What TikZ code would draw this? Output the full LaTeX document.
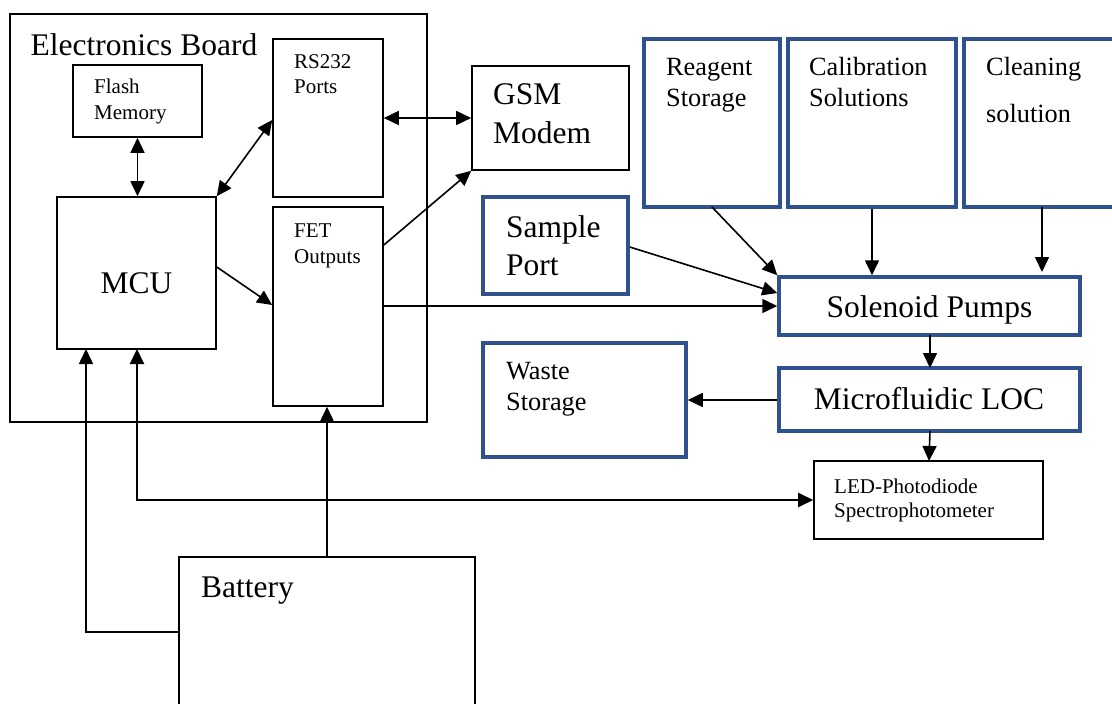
\documentclass[tikz,border=0pt]{standalone}
\usepackage{fontspec}
\setmainfont{Liberation Serif}
\usetikzlibrary{arrows.meta}
\definecolor{boxblue}{RGB}{47,82,143}
\begin{document}
\begin{tikzpicture}[x=1pt,y=-1pt,
  blk/.style={draw=black,line width=1.6pt,rectangle,inner sep=0pt},
  blu/.style={draw=boxblue,line width=3.5pt,rectangle,inner sep=0pt},
  conn/.style={line width=1.6pt,-{Triangle[length=15pt,width=14pt]}},
  dconn/.style={line width=1.6pt,{Triangle[length=15pt,width=14pt]}-{Triangle[length=15pt,width=14pt]}},
  lbl/.style={anchor=base west,inner sep=0pt},
  clbl/.style={anchor=base,inner sep=0pt},
  big/.style={font=\fontsize{31.5}{38}\selectfont},
  mid/.style={font=\fontsize{26.3}{31}\selectfont},
  sml/.style={font=\fontsize{21}{25}\selectfont}]
\useasboundingbox (0,0) rectangle (1112,704);
\clip (0,0) rectangle (1112,704);
\fill[white] (0,0) rectangle (1112,704);

% boxes
\node[blk,minimum width=417,minimum height=408] (board) at (218.5,218) {};
\node[blk,minimum width=129,minimum height=72] (flash) at (137.5,101) {};
\node[blk,minimum width=110,minimum height=158] (rs) at (328,118) {};
\node[blk,minimum width=110,minimum height=199] (fet) at (328,306.5) {};
\node[blk,minimum width=159,minimum height=152] (mcu) at (136.5,273) {};
\node[blk,minimum width=157,minimum height=104] (gsm) at (550.5,118) {};
\node[blu,minimum width=136,minimum height=168] (reag) at (712,123) {};
\node[blu,minimum width=168,minimum height=168] (calib) at (872,123) {};
\node[blu,minimum width=166,minimum height=168] (clean) at (1047,123) {};
\node[blu,minimum width=145,minimum height=97] (sample) at (555.5,245.5) {};
\node[blu,minimum width=301,minimum height=58] (sol) at (929.5,306) {};
\node[blu,minimum width=301,minimum height=63] (loc) at (929.5,399.5) {};
\node[blu,minimum width=203,minimum height=114] (waste) at (584.5,400) {};
\node[blk,minimum width=229,minimum height=78] (led) at (928.5,500) {};
\node[blk,minimum width=296,minimum height=203] (bat) at (327,658.5) {};

% texts
\node[lbl,big] (tBoard) at (30.5,55) {Electronics Board};
\node[lbl,sml] (tFlash1) at (94,93) {Flash};
\node[lbl,sml] (tFlash2) at (94,119) {Memory};
\node[lbl,sml] (tRs1) at (294,68) {RS232};
\node[lbl,sml] (tRs2) at (294,93) {Ports};
\node[lbl,sml] (tFet1) at (294,237) {FET};
\node[lbl,sml] (tFet2) at (294,263) {Outputs};
\node[clbl,big] (tMcu) at (136.5,293) {MCU};
\node[lbl,big] (tGsm1) at (493,104) {GSM};
\node[lbl,big] (tGsm2) at (493,143) {Modem};
\node[lbl,mid] (tReag1) at (666,75) {Reagent};
\node[lbl,mid] (tReag2) at (666,106) {Storage};
\node[lbl,mid] (tCal1) at (809,75) {Calibration};
\node[lbl,mid] (tCal2) at (809,106) {Solutions};
\node[lbl,mid] (tCln1) at (986,75) {Cleaning};
\node[lbl,mid] (tCln2) at (986,122) {solution};
\node[lbl,big] (tSam1) at (506,237) {Sample};
\node[lbl,big] (tSam2) at (506,275) {Port};
\node[clbl,big] (tSol) at (929.5,317) {Solenoid Pumps};
\node[clbl,big] (tLoc) at (929,409) {Microfluidic LOC};
\node[lbl,mid] (tWas1) at (506,379) {Waste};
\node[lbl,mid] (tWas2) at (506,410) {Storage};
\node[lbl,sml] (tLed1) at (834,493) {LED-Photodiode};
\node[lbl,sml] (tLed2) at (834,517) {Spectrophotometer};
\node[lbl,big] (tBat) at (201,597) {Battery};

% helper coordinates
\coordinate (flashB) at (flash.south);
\coordinate (mcuT) at (flashB |- mcu.north);
\coordinate (rsL) at (rs.west |- 0,120);
\coordinate (rsR) at (rs.east |- 0,118);
\coordinate (gsmL) at (gsm.west |- 0,118);
\coordinate (mcuR) at (mcu.east |- 0,267);
\coordinate (fetL) at (fet.west |- 0,305);
\coordinate (fetR1) at (fet.east |- 0,245);
\coordinate (fetR2) at (fet.east |- 0,306);
\coordinate (solL) at (sol.west |- 0,306);
\coordinate (samR) at (sample.east |- 0,247);
\coordinate (solL2) at (sol.west |- 0,293);
\coordinate (reagB) at (712,207);
\coordinate (solL3) at (sol.north west);
\coordinate (calB) at (calib.south);
\coordinate (solT1) at (calB |- sol.north);
\coordinate (clnB) at (1042,207);
\coordinate (solT2) at (1042,272);
\coordinate (solB) at (930,335);
\coordinate (locT) at (930,368);
\coordinate (locL) at (loc.west |- 0,400);
\coordinate (wasR) at (waste.east |- 0,400);
\coordinate (locB) at (930,431);
\coordinate (ledT) at (929,461);
\coordinate (batL) at (bat.west |- 0,632);
\coordinate (mcuB1) at (86,349);
\coordinate (mcuB2) at (137,349);
\coordinate (batT) at (bat.north);
\coordinate (fetB) at (batT |- fet.south);

% connectors
\draw[dconn] (flashB) -- (mcuT);
\draw[dconn] (mcu.north east) -- (rsL);
\draw[dconn] (rsR) -- (gsmL);
\draw[conn] (mcuR) -- (fetL);
\draw[conn] (fetR1) -- (gsm.south west);
\draw[conn] (fetR2) -- (solL);
\draw[conn] (samR) -- (solL2);
\draw[conn] (reagB) -- (solL3);
\draw[conn] (calB) -- (solT1);
\draw[conn] (clnB) -- (solT2);
\draw[conn] (solB) -- (locT);
\draw[conn] (locL) -- (wasR);
\draw[conn] (locB) -- (ledT);
\draw[conn] (batL) -| (mcuB1);
\draw[conn] (batT) -- (fetB);
\draw[dconn,line width=2.2pt] (mcuB2) |- (led.west);
\end{tikzpicture}
\end{document}
